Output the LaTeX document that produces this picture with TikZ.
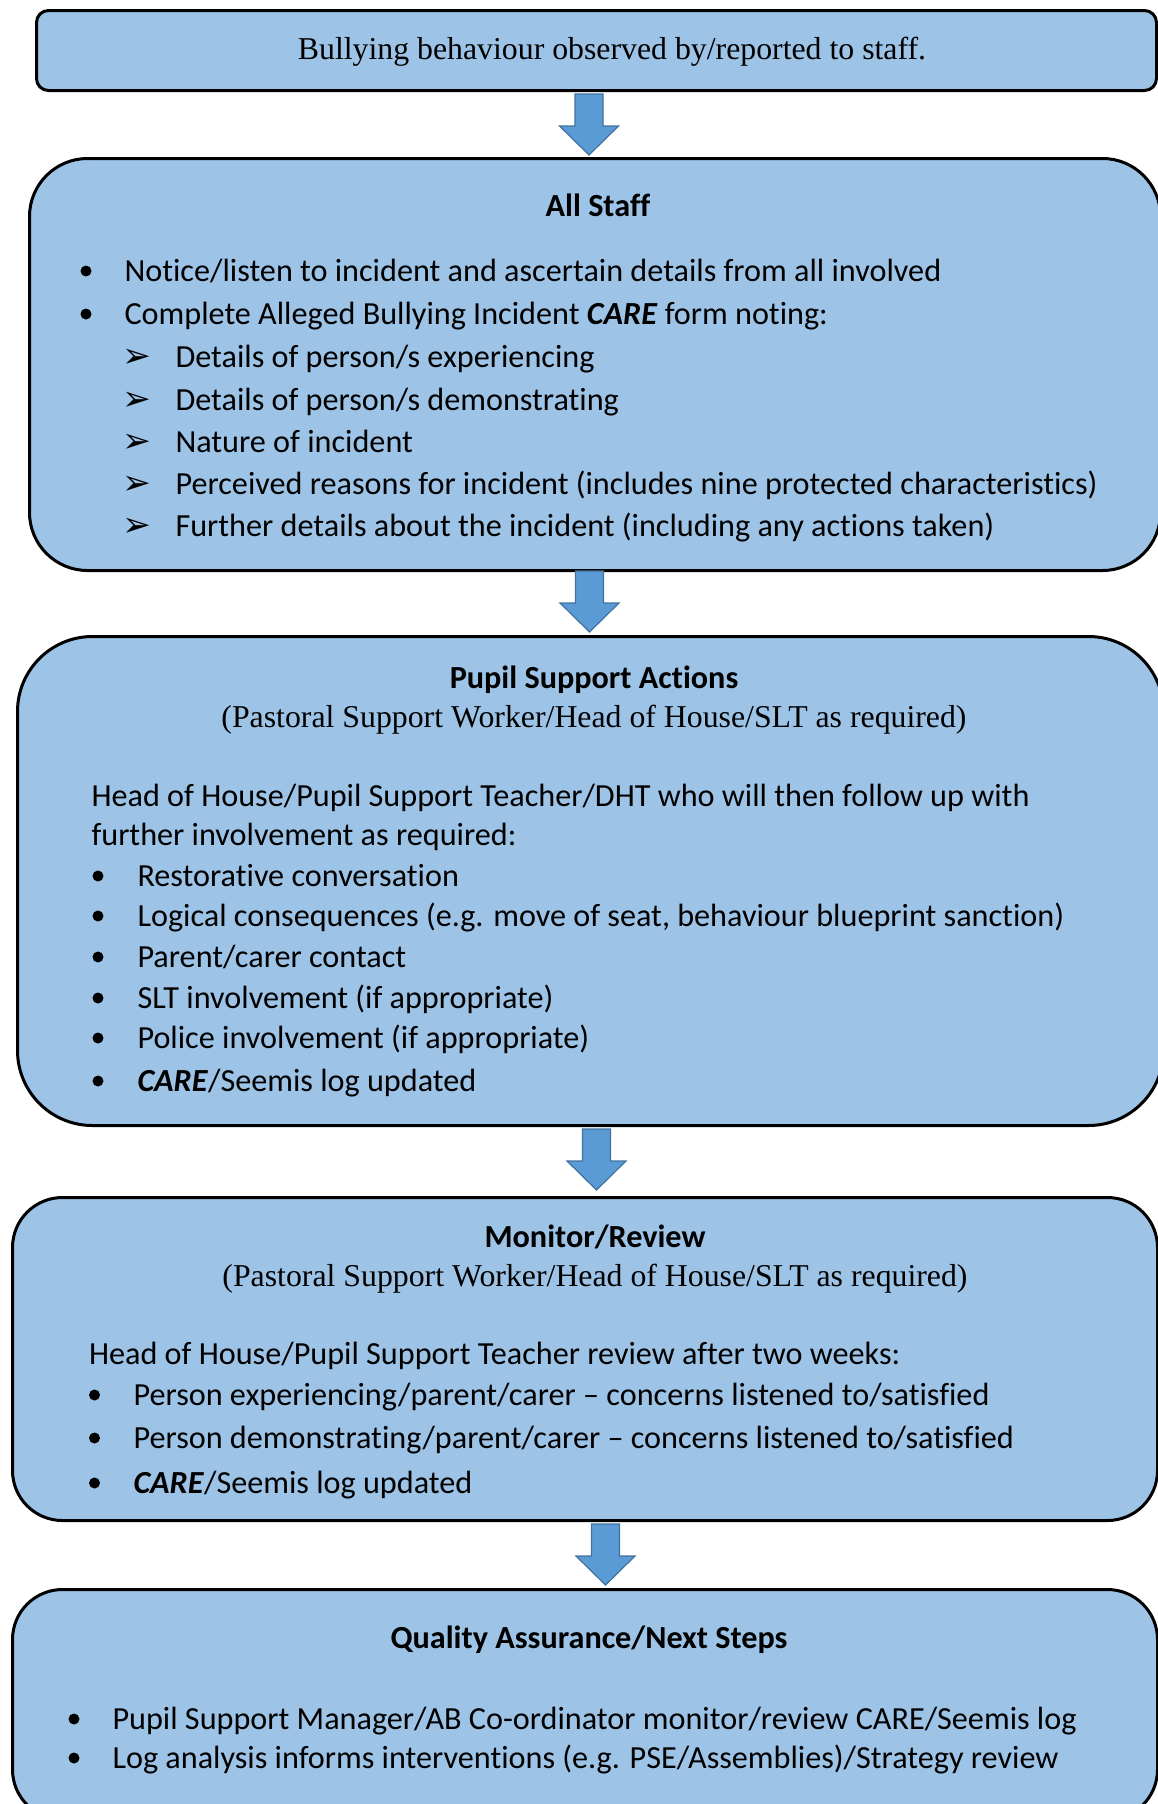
\documentclass[tikz,border=0pt]{standalone}
\usepackage{fontspec}
\setmainfont{Liberation Serif}
\newfontfamily\calibri[RawFeature={-liga}]{Carlito}
\newfontfamily\dingfont{DejaVu Sans}
\definecolor{boxfill}{HTML}{9DC3E6}
\definecolor{arrowfill}{HTML}{5B9BD5}
\definecolor{arrowline}{HTML}{41719C}
\newdimen\px \px=0.3774pt
\tikzset{
  stepbox/.style={draw=black, line width=3\px, fill=boxfill, inner sep=0pt, anchor=north west},
  txt/.style={anchor=base west, inner sep=0pt, font=\calibri\fontsize{12.15}{14}\selectfont},
  head/.style={anchor=base, inner sep=0pt, font=\calibri\bfseries\fontsize{12.15}{14}\selectfont},
  serif/.style={anchor=base, inner sep=0pt, font=\fontsize{12}{14}\selectfont},
  dot/.style={circle, fill, inner sep=0pt, minimum size=11\px},
  tip/.style={anchor=base, inner sep=0pt, font=\dingfont\fontsize{13}{14}\selectfont},
  pics/downarrow/.style={code={
    \draw[fill=arrowfill, draw=arrowline, line width=1.2\px, line join=miter]
      (-14,0) -- (14,0) -- (14,32) -- (29.5,32) -- (0,61) -- (-29.5,32) -- (-14,32) -- cycle;}}
}
\begin{document}
\begin{tikzpicture}[x=\px, y=-\px]
\useasboundingbox (0,0) rectangle (1157,1804);
% boxes
\node[stepbox, rounded corners=12\px, minimum width=1120\px, minimum height=80\px] (report) at (35,9) {};
\node[stepbox, rounded corners=58\px, minimum width=1131\px, minimum height=412\px] (staff) at (28,157) {};
\node[stepbox, rounded corners=75\px, minimum width=1146\px, minimum height=489\px] (support) at (16,635) {};
\node[stepbox, rounded corners=50\px, minimum width=1145\px, minimum height=323\px] (review) at (11,1196) {};
\node[stepbox, rounded corners=50\px, minimum width=1145\px, minimum height=230\px] (quality) at (11,1588) {};
% arrows
\pic (a1) at (589,94) {downarrow};
\pic (a2) at (589.5,571) {downarrow};
\pic (a3) at (596.5,1129) {downarrow};
\pic (a4) at (605.5,1524) {downarrow};

\node[serif] (reporttxt) at (612,59) {Bullying behaviour observed by/reported to staff.};

% all staff
\node[head] (staffhead) at (598,216) {All Staff};
\node[txt] (s1) at (124,281) {Notice/listen to incident and ascertain details from all involved};
\node[txt] (s2) at (124,324) {Complete Alleged Bullying Incident \textbf{\textit{CARE}} form noting:};
\node[txt] (s3) at (175,367) {Details of person/s experiencing};
\node[txt] (s4) at (175,410) {Details of person/s demonstrating};
\node[txt] (s5) at (175,452) {Nature of incident};
\node[txt] (s6) at (175,494) {Perceived reasons for incident (includes nine protected characteristics)};
\node[txt] (s7) at (175,536) {Further details about the incident (including any actions taken)};
\foreach \y [count=\i] in {281,324}
  \node[dot] (sb\i) at (86,\y-10) {};
\foreach \y [count=\i] in {367,410,452,494,536}
  \node[tip] (st\i) at (137,\y) {➢};

% pupil support
\node[head] (supporthead) at (594,688) {Pupil Support Actions};
\node[serif] (supportsub) at (594,727) {(Pastoral Support Worker/Head of House/SLT as required)};
\node[txt] (p1) at (91,806) {Head of House/Pupil Support Teacher/DHT who will then follow up with};
\node[txt] (p2) at (91,845) {further involvement as required:};
\node[txt] (p3) at (137,886) {Restorative conversation};
\node[txt] (p4) at (137,926) {Logical consequences (e.g. move of seat, behaviour blueprint sanction)};
\node[txt] (p5) at (137,967) {Parent/carer contact};
\node[txt] (p6) at (137,1008) {SLT involvement (if appropriate)};
\node[txt] (p7) at (137,1048) {Police involvement (if appropriate)};
\node[txt] (p8) at (137,1091) {\textbf{\textit{CARE}}/Seemis log updated};
\foreach \y [count=\i] in {886,926,967,1008,1048,1091}
  \node[dot] (pb\i) at (98,\y-10) {};

% monitor
\node[head] (reviewhead) at (595,1247) {Monitor/Review};
\node[serif] (reviewsub) at (595,1286) {(Pastoral Support Worker/Head of House/SLT as required)};
\node[txt] (m1) at (88.5,1364) {Head of House/Pupil Support Teacher review after two weeks:};
\node[txt] (m2) at (133,1405) {Person experiencing/parent/carer – concerns listened to/satisfied};
\node[txt] (m3) at (133,1448) {Person demonstrating/parent/carer – concerns listened to/satisfied};
\node[txt] (m4) at (133,1493) {\textbf{\textit{CARE}}/Seemis log updated};
\foreach \y [count=\i] in {1405,1448,1493}
  \node[dot] (mb\i) at (94.5,\y-10) {};

% quality
\node[head] (qualityhead) at (589,1648) {Quality Assurance/Next Steps};
\node[txt] (q1) at (112,1729) {Pupil Support Manager/AB Co-ordinator monitor/review CARE/Seemis log};
\node[txt] (q2) at (112,1768) {Log analysis informs interventions (e.g. PSE/Assemblies)/Strategy review};
\foreach \y [count=\i] in {1729,1768}
  \node[dot] (qb\i) at (74,\y-10) {};

\end{tikzpicture}
\end{document}
